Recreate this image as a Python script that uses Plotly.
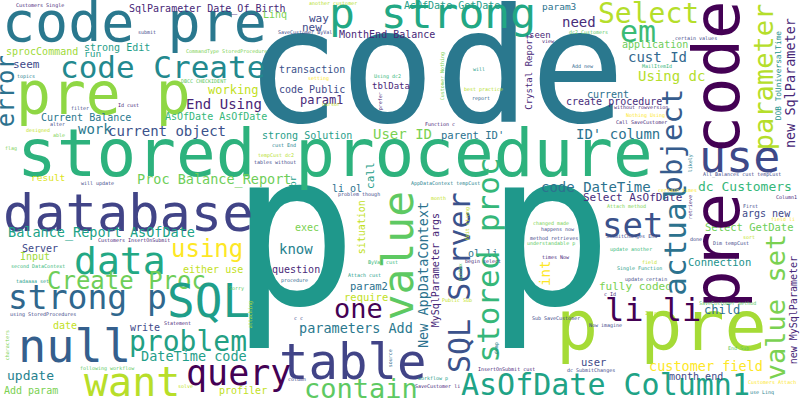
import plotly.graph_objects as go

# nube de palabras: palabras grandes y medianas en horizontal
words = ["code", "p p", "stored procedure", "database", "pre p", "p pre", "code pre",
         "code Create", "p strong", "Select", "em", "use", "table", "null", "want",
         "query", "data", "Create Proc", "strong p", "SQL", "problem", "one", "contain",
         "AsOfDate Column1", "set", "li li", "using",
         "SqlParameter Date_Of_Birth", "Linq", "strong Edit", "sprocCommand", "run",
         "seem", "working", "End Using", "Current Balance", "AsOfDate AsOfDate", "work",
         "current object", "strong Solution", "result", "Proc Balance_Report",
         "AsOfDate GetDate", "way", "new", "MonthEnd Balance", "transaction",
         "code Public", "tblData", "param1", "User ID", "parent ID'", "li ol",
         "param3", "need", "seen", "application", "cust Id", "Using dc", "current",
         "create procedure", "ID' column", "code DateTime", "dc Customers",
         "Balance_Report AsOfDate", "Server", "Input", "either use", "date", "write",
         "DateTime code", "update", "Add param", "profiler", "exec", "know", "question",
         "param2", "require", "parameters Add", "ol li", "Select AsOfDate", "args new",
         "Select GetDate", "Connection", "fully coded", "child", "user",
         "customer field", "month end"]
word_x = [435, 421, 335, 128, 103, 661, 134,
          162, 432, 648, 638, 739, 353, 74, 132,
          238, 120, 126, 87, 208, 188, 358, 361,
          605, 632, 653, 207,
          207, 275, 117, 42, 92,
          26, 233, 224, 86, 216, 95,
          167, 307, 48, 214,
          452, 319, 312, 387, 312,
          312, 391, 321, 402, 472, 347,
          559, 579, 540, 655, 657, 671, 608,
          614, 618, 596, 745,
          101, 40, 35, 213, 65, 145,
          194, 30, 31, 243, 307, 296, 296,
          369, 366, 356, 483, 632, 766,
          749, 719, 635, 722, 593,
          706, 696]
word_base = [125, 308, 178, 232, 115, 352, 42,
             78, 29, 24, 42, 173, 380, 363, 397,
             386, 275, 290, 310, 318, 352, 318, 398,
             395, 237, 322, 258,
             13, 18, 51, 55, 57,
             69, 94, 109, 121, 120, 134,
             136, 139, 181, 184,
             9, 23, 32, 38, 73,
             93, 89, 104, 139, 139, 192,
             10, 27, 38, 48, 62, 81, 98,
             105, 139, 192, 191,
             237, 252, 260, 273, 329, 331,
             361, 380, 394, 394, 231, 254, 273,
             290, 301, 333, 257, 202, 217,
             231, 266, 291, 314, 366,
             371, 380]
word_size = [158, 212, 66, 52, 58, 70, 55,
             31, 43, 28, 30, 45, 49, 47, 40,
             35, 38, 24, 33, 46, 28, 27, 27,
             30, 34, 32, 24,
             10, 10, 10, 10, 9.5,
             11, 12, 14, 10, 10, 14,
             14, 10, 9.5, 13.5,
             10, 11, 11, 10, 10,
             10, 9, 12, 14, 10.5, 10,
             9.5, 14, 9, 10, 14, 14, 10,
             10, 14, 14, 13,
             13.5, 10, 10, 10, 10, 10,
             13.5, 13, 10, 10, 10, 14, 10,
             10.5, 10.5, 13.5, 10, 11, 10,
             10.5, 10.5, 11, 12, 10.5,
             13.5, 10]
word_color = ["#2a788e", "#1f988b", "#2db27d", "#414487", "#8fd744", "#a5db36", "#2a788e",
              "#23898e", "#22a884", "#b5de2b", "#3bbb75", "#3e4989", "#414487", "#355f8d", "#b8de29",
              "#440154", "#22a884", "#6ece58", "#30678d", "#1f9e89", "#23a083", "#440154", "#5ec962",
              "#20a386", "#3b528b", "#440154", "#fde725",
              "#482878", "#7ad151", "#1f9e89", "#a0da39", "#1f9e89",
              "#3e4989", "#c2df23", "#482576", "#2a788e", "#35b779", "#2a788e",
              "#3b528b", "#1f9e89", "#dde318", "#6ece58",
              "#1f9e89", "#3e4989", "#3e4989", "#482878", "#3b528b",
              "#3e4989", "#482878", "#482878", "#7ad151", "#2c728e", "#2c728e",
              "#2c728e", "#472c7a", "#482878", "#6ece58", "#31688e", "#b5de2b", "#2c728e",
              "#472d7b", "#2c728e", "#2c728e", "#35b779",
              "#20a386", "#3e4989", "#a0da39", "#c2df23", "#c2df23", "#3e4989",
              "#1f9e89", "#26828e", "#7ad151", "#c2df23", "#7ad151", "#26828e", "#482878",
              "#2c728e", "#c2df23", "#2a788e", "#2c728e", "#472d7b", "#3e4989",
              "#6ece58", "#21918c", "#7ad151", "#2c728e", "#3e4989",
              "#fde725", "#3e4989"]

# palabras verticales (se leen de abajo hacia arriba)
vwords = ["pre code", "value", "SQL Server", "stored proc", "actual", "value set",
          "object", "parameter", "new SqlParameter", "DOB ToUniversalTime", "error",
          "New AppDataContext", "MySqlParameter args", "situation", "Crystal Report",
          "int", "call", "br", "new MySqlParameter"]
vword_base = [740, 414, 470, 499, 686, 785,
              683, 773, 795, 781, 15,
              428, 439, 365, 532,
              550, 374, 296, 797]
vword_y = [155, 256, 283, 260, 240, 307,
           141, 77, 83, 76, 91,
           275, 270, 227, 72,
           273, 175, 181, 310]
vword_size = [64, 43, 30, 31, 31, 27,
              29, 27, 13.5, 7.8, 24,
              13.5, 10, 10, 9,
              14, 11, 9, 10]
vword_color = ["#440154", "#5ec962", "#3b528b", "#35b779", "#2c728e", "#7ad151",
               "#365c8d", "#b5de2b", "#482878", "#21918c", "#2c728e",
               "#2c728e", "#482878", "#c2df23", "#482878",
               "#fde725", "#1f9e89", "#1f9e89", "#482878"]

# palabras muy chicas
small = ["Customers Single", "submit", "another customer", "SaveCustomer ByVal",
         "CommandType StoredProcedure", "topics", "DBCC CHECKIDENT", "filter", "Id cust",
         "alter", "designed", "able", "flag", "cust End", "tempCust dc2", "tables without",
         "will update", "setting", "Using dc2", "cursor", "will", "best practice", "report",
         "Function c", "AppDataContext tempCust", "problem though", "month", "view",
         "dc2 Customers", "certain values", "MailItemId", "Add new", "without rowversion",
         "Nothing Using", "Call SaveCustomer", "All_Balances cust tempCust", "certain times",
         "Column1", "Customers InsertOnSubmit", "second DataContext", "tadaaaa set", "Sorry",
         "using StoredProcedures", "Statement", "following workflow", "solve", "procedure",
         "Attach cust", "ByVal cust", "c c", "column", "workflow p", "SaveCustomer li",
         "Public Sub", "begin select", "InsertOnSubmit cust", "Attach method", "First",
         "field li", "changed made", "happens now", "method retrieves", "understandable p",
         "SubmitChanges End", "done", "sort", "Dim tempCust", "update another", "times Now",
         "field", "Single Function", "update certain", "c Id", "SaveCustomer method",
         "Sub SaveCustomer", "Id gt", "Now imagine", "End Sub", "dc SubmitChanges",
         "Customers Attach", "use Linq"]
small_x = [40, 147, 333, 305,
           226, 26, 203, 80, 128,
           57, 38, 59, 11, 284, 276, 275,
           97, 318, 387, 331, 479, 483, 481,
           440, 445, 359, 438, 548,
           588, 696, 657, 583, 641,
           645, 641, 742, 677,
           786, 134, 38, 32, 236,
           43, 177, 107, 185, 294,
           364, 383, 298, 297, 433, 437,
           457, 483, 506, 626, 750,
           783, 551, 558, 554, 551,
           631, 696, 749, 731, 631, 556,
           649, 639, 646, 610, 727,
           556, 652, 605, 738, 591,
           772, 762]
small_base = [7, 34, 5, 34,
              53, 78, 83, 110, 107,
              126, 132, 137, 150, 147, 157, 164,
              185, 80, 78, 106, 71, 91, 100,
              126, 185, 196, 200, 43,
              34, 40, 68, 68, 109,
              117, 124, 176, 192,
              199, 242, 268, 283, 290,
              316, 325, 370, 388, 282,
              277, 264, 320, 381, 380, 388,
              302, 263, 371, 208, 208,
              221, 225, 231, 240, 245,
              238, 241, 239, 245, 251, 259,
              264, 270, 281, 296, 305,
              320, 315, 327, 350, 372,
              384, 394]
small_color = ["#482878", "#3e4989", "#b5de2b", "#3e4989",
               "#7ad151", "#26828e", "#5ec962", "#3e4989", "#482878",
               "#3e4989", "#c2df23", "#7ad151", "#7ad151", "#26828e", "#b5de2b", "#3e4989",
               "#3e4989", "#fde725", "#35b779", "#c2df23", "#1f9e89", "#b5de2b", "#31688e",
               "#482878", "#26828e", "#3e4989", "#c2df23", "#482878",
               "#5ec962", "#3e4989", "#35b779", "#31688e", "#482878",
               "#fde725", "#482878", "#3e4989", "#fde725",
               "#482878", "#482878", "#35b779", "#1f9e89", "#5ec962",
               "#3e4989", "#482878", "#5ec962", "#c2df23", "#31688e",
               "#1f9e89", "#35b779", "#3e4989", "#3e4989", "#1f9e89", "#482878",
               "#c2df23", "#482878", "#482878", "#7ad151", "#3e4989",
               "#fde725", "#7ad151", "#3e4989", "#3e4989", "#5ec962",
               "#3e4989", "#3e4989", "#c2df23", "#3e4989", "#35b779", "#482878",
               "#c2df23", "#1f9e89", "#3e4989", "#482878", "#5ec962",
               "#3e4989", "#b5de2b", "#3e4989", "#5ec962", "#3e4989",
               "#fde725", "#26828e"]

# chicas y verticales
small_v = ["prefer", "Customer Nothing", "likely", "attaching", "characters", "source",
           "syntax", "Edit strong", "dump", "retrieve"]
small_v_base = [382, 444, 692, 252, 9, 392, 462, 469, 498, 692]
small_v_y = [101, 76, 163, 315, 345, 358, 272, 224, 348, 207]
small_v_color = ["#482878", "#7ad151", "#26828e", "#b5de2b", "#7ad151", "#31688e",
                 "#5ec962", "#c2df23", "#26828e", "#482878"]

fuente = "DejaVu Sans Mono"
subida = 0.365  # distancia del centro de la caja a la linea base (en em)

anotaciones = []
for w, x, b, s, c in zip(words, word_x, word_base, word_size, word_color):
    anotaciones.append(dict(x=x, y=b - subida * s, text=w, showarrow=False,
                            xanchor="center", yanchor="middle",
                            font=dict(family=fuente, size=s, color=c)))
for w, b, y, s, c in zip(vwords, vword_base, vword_y, vword_size, vword_color):
    anotaciones.append(dict(x=b - subida * s, y=y, text=w, showarrow=False, textangle=-90,
                            xanchor="center", yanchor="middle",
                            font=dict(family=fuente, size=s, color=c)))
for w, x, b, c in zip(small, small_x, small_base, small_color):
    anotaciones.append(dict(x=x, y=b - subida * 5, text=w, showarrow=False,
                            xanchor="center", yanchor="middle",
                            font=dict(family=fuente, size=5, color=c)))
for w, b, y, c in zip(small_v, small_v_base, small_v_y, small_v_color):
    anotaciones.append(dict(x=b - subida * 5, y=y, text=w, showarrow=False, textangle=-90,
                            xanchor="center", yanchor="middle",
                            font=dict(family=fuente, size=5, color=c)))

fig = go.Figure()
fig.add_trace(go.Scatter(x=[0, 800], y=[0, 400], mode="markers",
                         marker=dict(opacity=0), hoverinfo="skip", showlegend=False))
fig.update_layout(
    width=800, height=400,
    margin=dict(l=0, r=0, t=0, b=0),
    paper_bgcolor="white", plot_bgcolor="white",
    xaxis=dict(range=[0, 800], visible=False, fixedrange=True),
    yaxis=dict(range=[400, 0], visible=False, fixedrange=True),
    annotations=anotaciones,
)

# quitar el margen del body para que la imagen quede en 0,0
fig.write_html("out.html", config={"displayModeBar": False},
               post_script="document.body.style.margin='0';")
